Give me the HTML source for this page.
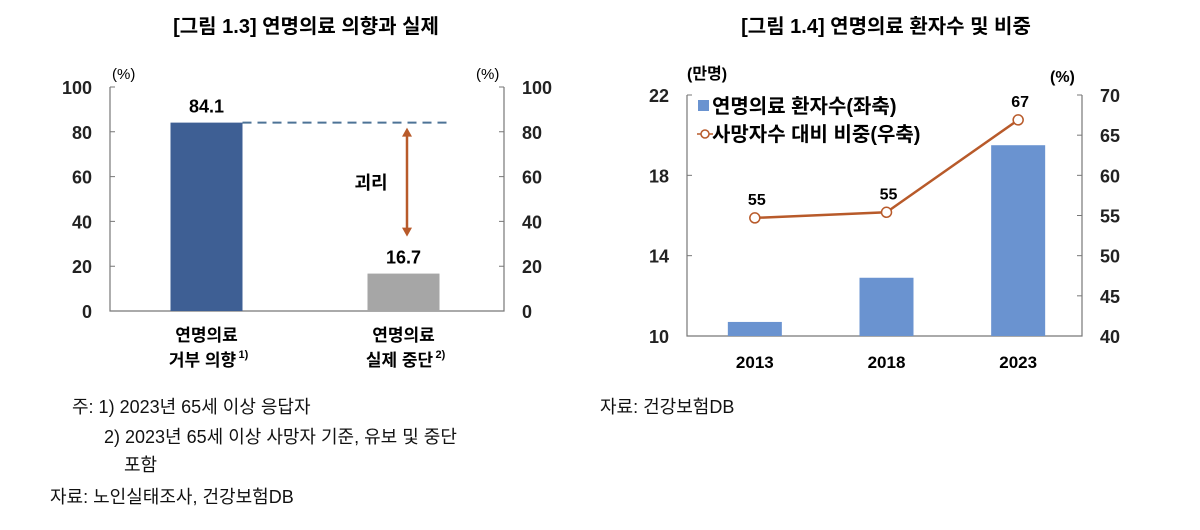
<!DOCTYPE html>
<html><head><meta charset="utf-8"><style>
body{margin:0;width:1200px;height:525px;background:#fff;overflow:hidden;font-family:"Liberation Sans","Noto Sans CJK KR",sans-serif}
svg text{font-family:"Liberation Sans","Noto Sans CJK KR",sans-serif}
</style></head><body>
<svg id="s" width="1200" height="525">
<text x="306" y="33" text-anchor="middle" font-size="20" font-weight="bold">[그림 1.3] 연명의료 의향과 실제</text>
<text x="886" y="33" text-anchor="middle" font-size="20" font-weight="bold">[그림 1.4] 연명의료 환자수 및 비중</text>
<g id="L"></g>
<g id="R"></g>
<g font-size="18" fill="#111">
<text x="72" y="413">주: 1) 2023년 65세 이상 응답자</text>
<text x="104" y="443">2) 2023년 65세 이상 사망자 기준, 유보 및 중단</text>
<text x="124" y="471">포함</text>
<text x="50" y="503">자료: 노인실태조사, 건강보험DB</text>
<text x="600" y="413">자료: 건강보험DB</text>
</g>
</svg>
<script>
const lCats=["연명의료|거부 의향","연명의료|실제 중단"];
const lSup=["1)","2)"];
const lVals=[84.1,16.7];
const lColors=["#3e5f94","#a6a6a6"];
const lTicks=[0,20,40,60,80,100];
const rCats=["2013","2018","2023"];
const rBars=[10.7,12.9,19.5];
const rShare=[54.7,55.4,66.9];
const rShareLabels=["55","55","67"];
const rLeftTicks=[10,14,18,22];
const rRightTicks=[40,45,50,55,60,65,70];
const NS="http://www.w3.org/2000/svg";
function mk(p,t,a,txt){const e=document.createElementNS(NS,t);for(const k in a)e.setAttribute(k,a[k]);if(txt!=null)e.textContent=txt;p.appendChild(e);return e;}
const L=document.getElementById('L');
const lx0=110,lx1=504,ly0=311,ly1=87;
const ly=v=>ly0-(v/100)*(ly0-ly1);
const lxc=i=>lx0+(lx1-lx0)*(i+0.5)/lCats.length;
const ax=mk(L,'path',{d:`M${lx0},${ly1}V${ly0}H${lx1}V${ly1}`,fill:'none',stroke:'#777','stroke-width':1.2});

lTicks.forEach(t=>{
 const y=ly(t);
 mk(L,'path',{d:`M${lx0},${y}h5M${lx1},${y}h-5`,stroke:'#777'});
 const a=mk(L,'text',{x:lx0-18,y:y+7,'text-anchor':'end','font-size':18,'font-weight':'bold','fill':'#222'},t);
 
 const b=mk(L,'text',{x:lx1+18,y:y+7,'font-size':18,'font-weight':'bold','fill':'#222'},t);
 
});
mk(L,'text',{x:112,y:79,'font-size':15},'(%)');
mk(L,'text',{x:476,y:79,'font-size':15},'(%)');
lVals.forEach((v,i)=>{
 const c=lxc(i)-2,w=72;
 const r=mk(L,'rect',{x:c-w/2,y:ly(v),width:w,height:ly0-ly(v),fill:lColors[i]});
 
 const t=mk(L,'text',{x:c,y:ly(v)-10,'text-anchor':'middle','font-size':18,'font-weight':'bold'},v.toFixed(1));
 
 const p=lCats[i].split('|');
 mk(L,'text',{x:c,y:341,'text-anchor':'middle','font-size':17,'font-weight':'bold'},p[0]);
 const t2=mk(L,'text',{x:c-4,y:366,'text-anchor':'middle','font-size':17,'font-weight':'bold'},p[1]);
 
 mk(L,'text',{x:c+32,y:358,'font-size':11,'font-weight':'bold'},lSup[i]);
});
const gy=ly(lVals[0]);
const dl=mk(L,'line',{x1:lxc(0)+34,y1:gy,x2:447,y2:gy,stroke:'#4d7396','stroke-width':2,'stroke-dasharray':'9,6'});

const ay1=gy+5,ay2=ly(lVals[1]+16.5);
const ar=mk(L,'path',{d:`M407,${ay1+8}V${ay2-8}`,stroke:'#b85a2a','stroke-width':2.5});

mk(L,'path',{d:`M407,${ay1}l-5,9h10zM407,${ay2}l-5,-9h10z`,fill:'#b85a2a'});
mk(L,'text',{x:371,y:189,'text-anchor':'middle','font-size':18,'font-weight':'bold'},'괴리');
const R=document.getElementById('R');
const rx0=687,rx1=1082,ry0=336,ry1=95;
const yl=v=>ry0-(v-10)/12*(ry0-ry1);
const yr=v=>ry0-(v-40)/30*(ry0-ry1);
const rxc=i=>rx0+(rx1-rx0)*(i+0.5)/rCats.length;
const ax2=mk(R,'path',{d:`M${rx0},${ry1}V${ry0}H${rx1}V${ry1}`,fill:'none',stroke:'#777','stroke-width':1.2});

rLeftTicks.forEach(t=>{const y=yl(t);mk(R,'path',{d:`M${rx0},${y}h5`,stroke:'#777'});
 const a=mk(R,'text',{x:rx0-18,y:y+7,'text-anchor':'end','font-size':18,'font-weight':'bold','fill':'#222'},t);});
rRightTicks.forEach(t=>{const y=yr(t);mk(R,'path',{d:`M${rx1},${y}h-5`,stroke:'#777'});
 const a=mk(R,'text',{x:rx1+18,y:y+7,'font-size':18,'font-weight':'bold','fill':'#222'},t);});
mk(R,'text',{x:687,y:79,'font-size':16,'font-weight':'bold'},'(만명)');
mk(R,'text',{x:1050,y:82,'font-size':16,'font-weight':'bold'},'(%)');
rBars.forEach((v,i)=>{
 const c=rxc(i)+2,w=54;
 const r=mk(R,'rect',{x:c-w/2,y:yl(v),width:w,height:ry0-yl(v),fill:'#6a93d0'});
 
 const t=mk(R,'text',{x:c,y:368,'text-anchor':'middle','font-size':17,'font-weight':'bold'},rCats[i]);
 
});
const pts=rShare.map((v,i)=>[rxc(i)+2,yr(v)]);
const ln=mk(R,'polyline',{points:pts.map(p=>p.join(',')).join(' '),fill:'none',stroke:'#b85a2a','stroke-width':2.5});

pts.forEach((p,i)=>{
 const c=mk(R,'circle',{cx:p[0],cy:p[1],r:5,fill:'#fff',stroke:'#b85a2a','stroke-width':1.5});
 
 mk(R,'text',{x:p[0]+2,y:p[1]-13,'text-anchor':'middle','font-size':16,'font-weight':'bold'},rShareLabels[i]);
});
const lg=mk(R,'g',{});

mk(lg,'rect',{x:698,y:100,width:11,height:11,fill:'#6a93d0'});
mk(lg,'text',{x:712,y:113,'font-size':20,'font-weight':'bold'},'연명의료 환자수(좌축)');
mk(lg,'line',{x1:697,y1:134,x2:713,y2:134,stroke:'#b85a2a','stroke-width':1.5});
mk(lg,'circle',{cx:705,cy:134,r:4,fill:'#fff',stroke:'#b85a2a','stroke-width':1.5});
mk(lg,'text',{x:712,y:141,'font-size':20,'font-weight':'bold'},'사망자수 대비 비중(우축)');
</script>
</body></html>
